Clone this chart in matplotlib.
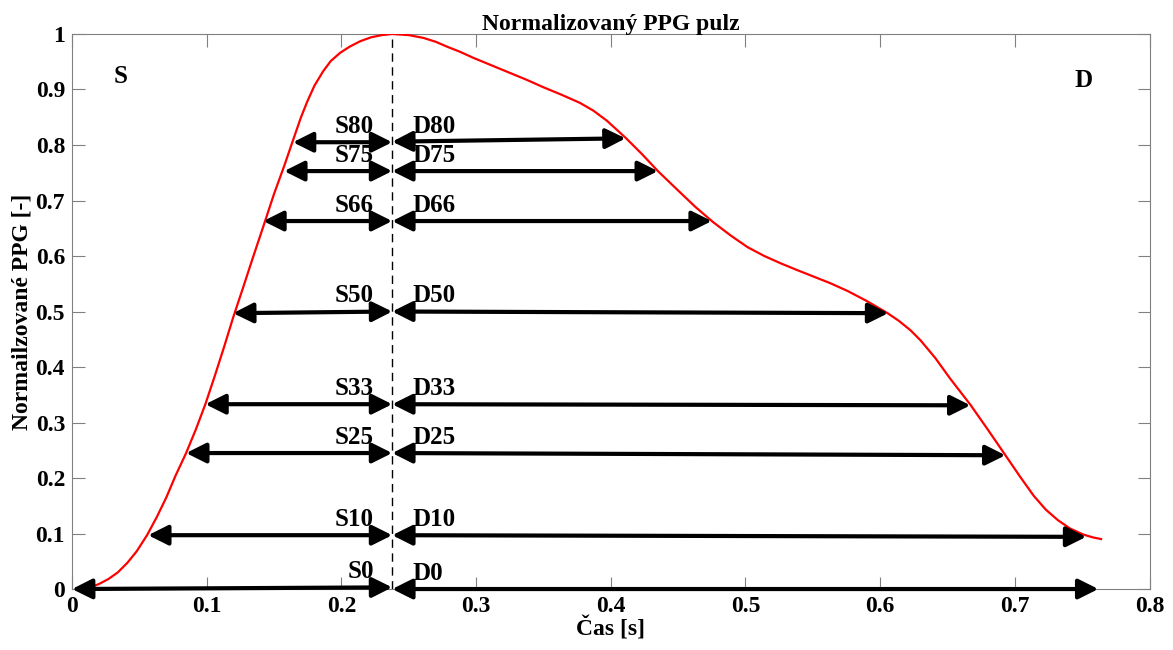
import matplotlib
matplotlib.use("Agg")
import matplotlib.pyplot as plt

plt.rcParams['font.family'] = 'Liberation Serif'
plt.rcParams['font.weight'] = 'bold'

# PPG pulse
cas = [0.0134, 0.020, 0.027, 0.034, 0.041, 0.048, 0.0557, 0.063, 0.070, 0.077,
       0.0847, 0.092, 0.099, 0.106, 0.113, 0.1196, 0.127, 0.134, 0.142, 0.150,
       0.1575, 0.164, 0.170, 0.1746, 0.180, 0.1865, 0.192, 0.199, 0.206, 0.214,
       0.222, 0.230, 0.2377, 0.250, 0.2608, 0.270, 0.2786, 0.288, 0.298, 0.311,
       0.325, 0.338, 0.350, 0.363, 0.377, 0.387, 0.397, 0.411, 0.423, 0.435, 0.450,
       0.463, 0.476, 0.489, 0.5015, 0.514, 0.526, 0.538, 0.5505, 0.563, 0.5758,
       0.590, 0.6055, 0.614, 0.6226, 0.630, 0.641, 0.652, 0.667, 0.680, 0.693, 0.704,
       0.714, 0.723, 0.732, 0.741, 0.751, 0.758, 0.764]
ppg = [0.003, 0.009, 0.018, 0.030, 0.047, 0.068, 0.097, 0.130, 0.165, 0.205,
       0.245, 0.288, 0.333, 0.384, 0.437, 0.489, 0.543, 0.595, 0.653, 0.712,
       0.762, 0.808, 0.850, 0.878, 0.907, 0.933, 0.951, 0.966, 0.977, 0.987,
       0.994, 0.998, 1.0, 0.998, 0.993, 0.986, 0.977, 0.968, 0.957, 0.944,
       0.930, 0.917, 0.904, 0.891, 0.876, 0.862, 0.844, 0.813, 0.784, 0.753, 0.718,
       0.688, 0.661, 0.637, 0.616, 0.600, 0.587, 0.575, 0.563, 0.551, 0.537,
       0.519, 0.497, 0.483, 0.466, 0.448, 0.416, 0.379, 0.332, 0.287, 0.241, 0.202,
       0.168, 0.143, 0.124, 0.109, 0.098, 0.093, 0.090]

t_peak = 0.2377
levels = ['80', '75', '66', '50', '33', '25', '10', '0']
s_x = [0.164, 0.1575, 0.142, 0.1196, 0.099, 0.0847, 0.0565, 0.0]
s_yl = [0.805, 0.753, 0.663, 0.497, 0.333, 0.245, 0.097, 0.0]
s_yr = [0.805, 0.753, 0.663, 0.500, 0.333, 0.245, 0.097, 0.003]
d_x = [0.411, 0.435, 0.475, 0.606, 0.667, 0.693, 0.753, 0.762]
d_yl = [0.806, 0.753, 0.663, 0.500, 0.333, 0.245, 0.097, 0.0]
d_yr = [0.812, 0.753, 0.663, 0.497, 0.331, 0.241, 0.094, 0.0]

fig = plt.figure(figsize=(11.73, 6.5), dpi=100)
ax = fig.add_axes([0.0614, 0.0938, 0.9186, 0.8539])

ax.plot(cas, ppg, color='red', lw=1.6, zorder=3)
ax.plot([t_peak, t_peak], [0, 1], color='black', lw=1, ls=(0, (6, 4)), zorder=2)

arr = dict(arrowstyle='<|-|>,head_length=0.6,head_width=0.3', color='black',
           lw=3, shrinkA=0, shrinkB=0, mutation_scale=20)
for i, lev in enumerate(levels):
    ax.annotate('', xy=(t_peak, s_yr[i]), xytext=(s_x[i], s_yl[i]), arrowprops=arr, zorder=4)
    ax.annotate('', xy=(d_x[i], d_yr[i]), xytext=(t_peak, d_yl[i]), arrowprops=arr, zorder=4)
    ax.text(0.224, s_yr[i] + 0.028, 'S' + lev, ha='right', va='center', fontsize=18, fontweight='bold')
    ax.text(0.2525, d_yl[i] + 0.028, 'D' + lev, ha='left', va='center', fontsize=18, fontweight='bold')

ax.text(0.036, 0.924, 'S', ha='center', va='center', fontsize=18, fontweight='bold')
ax.text(0.751, 0.917, 'D', ha='center', va='center', fontsize=18, fontweight='bold')

ax.set_xlim(0, 0.8)
ax.set_ylim(0, 1)
ax.set_xticks([0, 0.1, 0.2, 0.3, 0.4, 0.5, 0.6, 0.7, 0.8])
ax.set_xticklabels(['0', '0.1', '0.2', '0.3', '0.4', '0.5', '0.6', '0.7', '0.8'])
ax.set_yticks([0, 0.1, 0.2, 0.3, 0.4, 0.5, 0.6, 0.7, 0.8, 0.9, 1])
ax.set_yticklabels(['0', '0.1', '0.2', '0.3', '0.4', '0.5', '0.6', '0.7', '0.8', '0.9', '1'])
ax.tick_params(direction='in', length=9, width=0.8, color='#808080', labelsize=17,
               top=True, right=True, pad=5)
for sp in ax.spines.values():
    sp.set_color('#808080')
    sp.set_linewidth(0.8)

ax.set_title('Normalizovaný PPG pulz', fontsize=17, fontweight='bold', pad=3)
ax.set_xlabel('Čas [s]', fontsize=17, fontweight='bold', labelpad=0)
ax.set_ylabel('Normailzované PPG [-]', fontsize=17, fontweight='bold', labelpad=2)

fig.savefig('out.png', dpi=100)
